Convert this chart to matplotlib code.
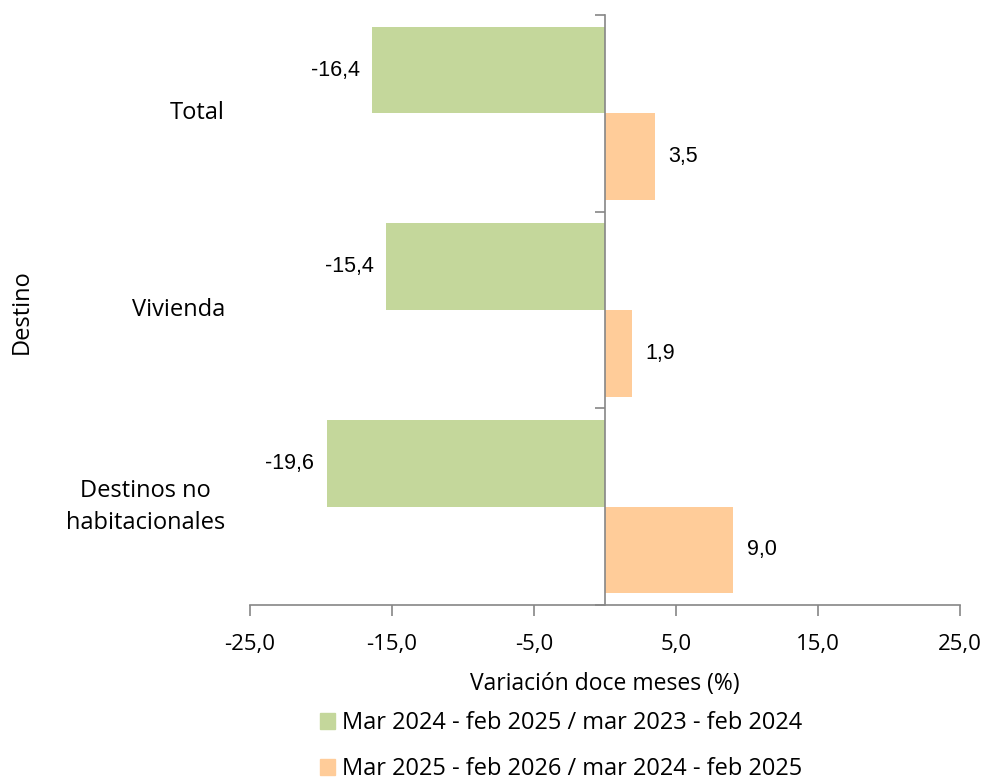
import matplotlib
matplotlib.use('Agg')
import matplotlib.pyplot as plt
import matplotlib.transforms as mtransforms
from matplotlib.patches import Patch
import numpy as np

categories = ['Total', 'Vivienda', 'Destinos no\nhabitacionales']
serie_1 = [-16.4, -15.4, -19.6]
serie_2 = [3.5, 1.9, 9.0]
legend_labels = ['Mar 2024 - feb 2025 / mar 2023 - feb 2024',
                 'Mar 2025 - feb 2026 / mar 2024 - feb 2025']
xticks = [-25, -15, -5, 5, 15, 25]
x_label = 'Variación doce meses (%)'
y_label = 'Destino'

GREEN = '#C4D79B'
ORANGE = '#FFCC99'
GRAY = '#868686'
FONT = 'Open Sans'
VFONT = 'Liberation Sans'

def fmt(v):
    return f"{v:.1f}".replace('.', ',')

fig = plt.figure(figsize=(9.85, 7.81), dpi=100)
W, H = 985, 781
ax = fig.add_axes([250 / W, 1 - 605 / H, 710 / W, 590 / H])

y = np.arange(len(categories))
h = 0.44
ax.barh(y - h / 2, serie_1, height=h, color=GREEN, label=legend_labels[0])
ax.barh(y + h / 2, serie_2, height=h, color=ORANGE, label=legend_labels[1])

ax.set_xlim(-25, 25)
ax.set_ylim(2.5, -0.5)

for s in ['top', 'right']:
    ax.spines[s].set_visible(False)
ax.spines['left'].set_position(('data', 0))
for s in ['left', 'bottom']:
    ax.spines[s].set_color(GRAY)
    ax.spines[s].set_linewidth(1.2)

ax.set_yticks([-0.5, 0.5, 1.5, 2.5])
ax.set_yticklabels([])
ax.tick_params(axis='y', direction='out', length=7, color=GRAY, width=1.2)
ax.set_xticks(xticks)
ax.set_xticklabels([fmt(t) for t in xticks], fontsize=16, family=FONT)
ax.tick_params(axis='x', direction='out', length=8, color=GRAY, width=1.2, pad=13)

ax.set_xlabel(x_label, fontsize=16.5, family=FONT, labelpad=12)

for yi, v in zip(y, serie_1):
    ax.annotate(fmt(v), (v, yi - h / 2), xytext=(-9, 0), textcoords='offset points',
                ha='right', va='center', fontsize=15.5, family=VFONT)
for yi, v in zip(y, serie_2):
    ax.annotate(fmt(v), (v, yi + h / 2), xytext=(10, 0), textcoords='offset points',
                ha='left', va='center', fontsize=15.5, family=VFONT)

trans = mtransforms.blended_transform_factory(ax.transAxes, ax.transData)
for yi, c in zip(y, categories):
    ax.text(-25 / 710, yi, c, transform=trans, ha='right', va='center',
            multialignment='center', fontsize=17, family=FONT, linespacing=1.45)

fig.text(22 / W, 1 - 312 / H, y_label, rotation=90, ha='center', va='center',
         fontsize=17, family=FONT)

handles = [Patch(color=GREEN), Patch(color=ORANGE)]
fig.legend(handles, legend_labels, loc='upper left',
           bbox_to_anchor=(320 / W, 1 - 711 / H), frameon=False,
           prop={'family': FONT, 'size': 17}, handlelength=0.65, handleheight=0.65,
           handletextpad=0.3, labelspacing=0.95, borderpad=0, borderaxespad=0)

fig.savefig('out.png', dpi=100)
